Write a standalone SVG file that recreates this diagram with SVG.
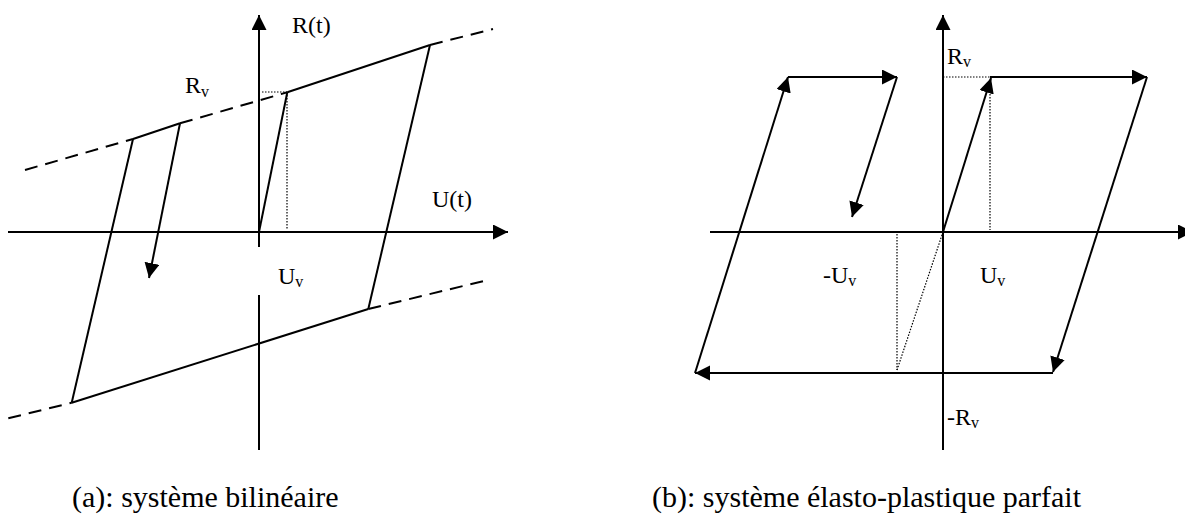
<svg xmlns="http://www.w3.org/2000/svg" width="1185" height="522" viewBox="0 0 1185 522">
<style>
.ln{stroke:#000;stroke-width:2;fill:none}
.dash{stroke:#000;stroke-width:2;fill:none;stroke-dasharray:13,8}
.dot{stroke:#000;stroke-width:1.2;fill:none;stroke-dasharray:1.5,1.5}
.arr{marker-end:url(#ah)}
.lbl{font-family:"Liberation Serif","Times New Roman",serif;font-size:24px;fill:#000}
.sub{font-size:16px}
.cap{font-family:"Liberation Serif","Times New Roman",serif;font-size:30px;fill:#000}
</style>
<defs>
<marker id="ah" markerUnits="userSpaceOnUse" markerWidth="16" markerHeight="16" refX="15" refY="7.5" orient="auto">
<path d="M0,0 L15,7.5 L0,15 z" fill="#000"/>
</marker>
</defs>
<rect width="1185" height="522" fill="#fff"/>

<g id="diagram-a">
<g id="axes-a">
<line class="ln" x1="259" y1="450" x2="259" y2="295"/>
<line class="ln arr" x1="259" y1="247" x2="259" y2="15"/>
<line class="ln arr" x1="8" y1="232" x2="508" y2="232"/>
</g>
<g id="connectors-a">
<line class="dash" x1="25" y1="170" x2="133" y2="139"/>
<line class="ln" x1="133" y1="139" x2="180" y2="123.3"/>
<line class="dash" x1="180" y1="123.3" x2="287.3" y2="92.3"/>
<line class="ln" x1="287.3" y1="92.3" x2="430" y2="45"/>
<line class="dash" x1="430" y1="45" x2="493" y2="29"/>
<line class="dash" x1="8.3" y1="418.3" x2="71.7" y2="402.7"/>
<line class="ln" x1="71.7" y1="402.7" x2="368.3" y2="309"/>
<line class="dash" x1="368.3" y1="309" x2="485" y2="280.7"/>
<line class="ln" x1="259" y1="232" x2="287.3" y2="92.3"/>
<line class="ln" x1="430" y1="45" x2="368.3" y2="309"/>
<line class="ln" x1="133" y1="139" x2="71.7" y2="402.7"/>
<line class="ln arr" x1="180" y1="123.3" x2="149" y2="278"/>
<line class="dot" x1="262" y1="92" x2="287" y2="92"/>
<line class="dot" x1="287" y1="92" x2="287" y2="229"/>
</g>
<g id="labels-a">
<text class="lbl" x="292" y="33">R(t)</text>
<text class="lbl" x="432" y="207">U(t)</text>
<text class="lbl" x="185" y="93">R<tspan class="sub" dy="4">v</tspan></text>
<text class="lbl" x="278" y="284">U<tspan class="sub" dy="3">v</tspan></text>
</g>
</g>

<g id="diagram-b">
<g id="axes-b">
<line class="ln arr" x1="943" y1="450" x2="943" y2="15"/>
<line class="ln arr" x1="710" y1="232" x2="1193" y2="232"/>
</g>
<g id="connectors-b">
<line class="dot" x1="943" y1="77" x2="990" y2="77"/>
<line class="dot" x1="990" y1="82" x2="990" y2="230"/>
<line class="dot" x1="897" y1="234" x2="897" y2="370"/>
<line class="dot" x1="897" y1="370" x2="943" y2="232"/>
<line class="ln arr" x1="943" y1="232" x2="991" y2="78"/>
<line class="ln arr" x1="990" y1="77" x2="1147" y2="77"/>
<line class="ln arr" x1="1147" y1="77" x2="1053" y2="372"/>
<line class="ln arr" x1="1053" y1="373" x2="695" y2="373"/>
<line class="ln arr" x1="695" y1="373" x2="788" y2="77"/>
<line class="ln arr" x1="788" y1="77" x2="897" y2="77"/>
<line class="ln arr" x1="897" y1="77" x2="852" y2="217"/>
</g>
<g id="labels-b">
<text class="lbl" x="947" y="64">R<tspan class="sub" dy="3">v</tspan></text>
<text class="lbl" x="823" y="283">-U<tspan class="sub" dy="3">v</tspan></text>
<text class="lbl" x="980" y="283">U<tspan class="sub" dy="3">v</tspan></text>
<text class="lbl" x="947" y="425">-R<tspan class="sub" dy="3">v</tspan></text>
</g>
</g>

<g id="captions">
<text class="cap" x="72" y="507">(a): système bilinéaire</text>
<text class="cap" x="652" y="507">(b): système élasto-plastique parfait</text>
</g>
</svg>
